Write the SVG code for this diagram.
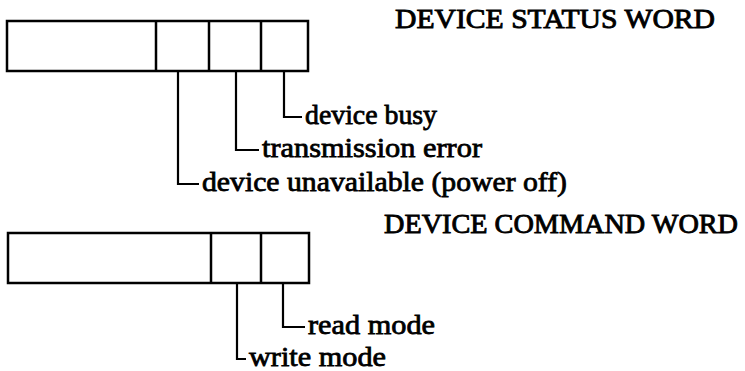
<svg xmlns="http://www.w3.org/2000/svg" width="745" height="371" viewBox="0 0 745 371">
  <style>
    .box { fill: none; stroke: #000; stroke-width: 2.5; stroke-linejoin: miter; }
    .lead { fill: none; stroke: #000; stroke-width: 2.2; }
    .title { font-family: "Liberation Serif", "Times New Roman", serif; font-size: 28px; fill: #000; stroke: #000; stroke-width: 0.9; }
    .label { font-family: "Liberation Serif", "Times New Roman", serif; font-size: 28px; fill: #000; stroke: #000; stroke-width: 0.8; }
  </style>
  <rect width="745" height="371" fill="#fff"/>

  <!-- status word register -->
  <g id="status-word">
    <rect class="box" x="7" y="21" width="301" height="50"/>
    <line class="box" x1="156" y1="21" x2="156" y2="71"/>
    <line class="box" x1="209" y1="21" x2="209" y2="71"/>
    <line class="box" x1="261" y1="21" x2="261" y2="71"/>
    <text class="title" x="395" y="28" textLength="320" lengthAdjust="spacingAndGlyphs">DEVICE STATUS WORD</text>
  </g>

  <!-- command word register -->
  <g id="command-word">
    <rect class="box" x="8" y="233" width="301" height="50"/>
    <line class="box" x1="211" y1="233" x2="211" y2="283"/>
    <line class="box" x1="261" y1="233" x2="261" y2="283"/>
    <text class="title" x="384" y="233" textLength="354" lengthAdjust="spacingAndGlyphs">DEVICE COMMAND WORD</text>
  </g>

  <!-- bit labels -->
  <g id="label-busy"><text class="label" x="305" y="124" textLength="132" lengthAdjust="spacingAndGlyphs">device busy</text></g>
  <g id="label-transmission"><text class="label" x="262" y="157" textLength="220" lengthAdjust="spacingAndGlyphs">transmission error</text></g>
  <g id="label-unavailable"><text class="label" x="202" y="191" textLength="365" lengthAdjust="spacingAndGlyphs">device unavailable (power off)</text></g>
  <g id="label-read"><text class="label" x="308" y="334" textLength="127" lengthAdjust="spacingAndGlyphs">read mode</text></g>
  <g id="label-write"><text class="label" x="249" y="366" textLength="137" lengthAdjust="spacingAndGlyphs">write mode</text></g>

  <!-- leader lines from bits to labels -->
  <g id="connectors">
    <polyline class="lead" points="284,71 284,117 302,117"/>
    <polyline class="lead" points="236,71 236,150 259,150"/>
    <polyline class="lead" points="178,71 178,184 199,184"/>
    <polyline class="lead" points="283,283 283,327 305,327"/>
    <polyline class="lead" points="237,283 237,359 246,359"/>
  </g>
</svg>
